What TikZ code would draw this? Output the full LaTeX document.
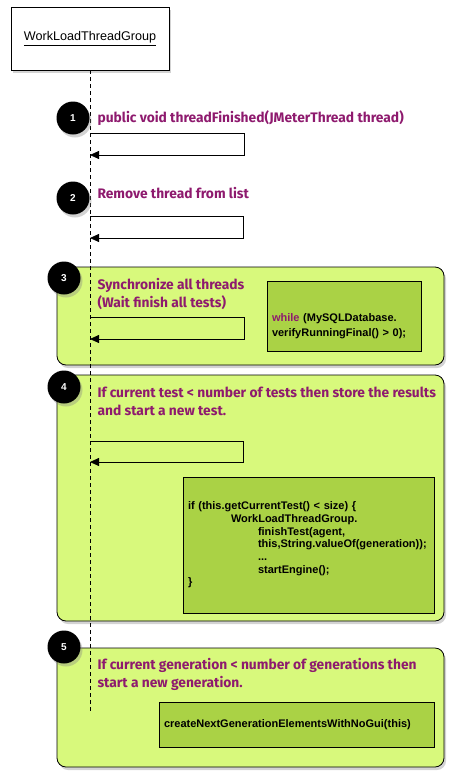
\documentclass[tikz,border=0pt]{standalone}
\usepackage{fontspec}
\setmainfont{Liberation Sans}
\newfontfamily\stepfont{Fira Sans}
\usetikzlibrary{positioning, arrows.meta, shadows}
\definecolor{panelgreen}{HTML}{D8F97C}
\definecolor{codegreen}{HTML}{AAD245}
\definecolor{stepviolet}{HTML}{8E1A6E}

\begin{document}
\begin{tikzpicture}[x=1pt, y=-1pt,
  panel/.style={draw=black, thick, fill=panelgreen, rounded corners=9pt,
    drop shadow={shadow xshift=2pt, shadow yshift=-3pt, opacity=0.35}},
  codebox/.style={draw=black, fill=codegreen, align=left, inner xsep=5pt,
    font=\bfseries\fontsize{11}{12.7}\selectfont},
  badge/.style={circle, fill=black, text=white, minimum size=33pt, inner sep=0pt,
    font=\bfseries\fontsize{10}{11}\selectfont,
    drop shadow={shadow xshift=2pt, shadow yshift=-3pt, opacity=0.35}},
  steplabel/.style={anchor=west, align=left, text=stepviolet,
    font=\stepfont\bfseries\fontsize{13.8}{18}\selectfont},
  msg/.style={line width=0.8pt, -{Triangle[length=9pt, width=8pt]}},
  lifeline/.style={line width=0.8pt, dash pattern=on 4pt off 3pt}
]
\useasboundingbox (0,0) rectangle (455,782);

% header object
\node[draw, thick, fill=white, minimum width=158pt, minimum height=63pt,
  drop shadow={shadow xshift=2pt, shadow yshift=-3pt, opacity=0.35},
  font=\fontsize{12.6}{14}\selectfont] (head) at (90,38.5) {\underline{WorkLoadThreadGroup}};

% green panels for steps 3, 4, 5
\draw[panel] (57,267) rectangle (444,365);
\draw[panel] (57,375) rectangle (444,621);
\draw[panel] (57,648) rectangle (444,767);

% code boxes
\node[codebox, minimum width=154pt, minimum height=70pt, text width=144pt] (code3) at (344,316)
  {\mbox{}\\[15pt]\textcolor{stepviolet}{while} (MySQLDatabase.\\[2.3pt]verifyRunningFinal() > 0);};
\node[codebox, minimum width=251pt, minimum height=136pt, text width=241pt] (code4) at (308.5,545)
  {if (this.getCurrentTest() < size) \{\\
   \hspace*{43pt}WorkLoadThreadGroup.\\
   \hspace*{70pt}finishTest(agent,\\
   \hspace*{70pt}this,String.valueOf(generation));\\
   \hspace*{70pt}...\\
   \hspace*{70pt}startEngine();\\
   \}};
\node[codebox, minimum width=275pt, minimum height=45pt, text width=265pt] (code5) at (296.5,724.5)
  {createNextGenerationElementsWithNoGui(this)};

% lifeline
\coordinate (lifeend) at (90,713);
\draw[lifeline] (head.south) -- (lifeend);

% numbered badges
\foreach \n/\x/\y in {1/73/118, 2/73/198, 3/64/278, 4/64/387, 5/64/647}
  \node[badge] (badge\n) at (\x,\y) {\n};

% self messages
\foreach \n/\top/\bot/\r in {1/133/155/244, 2/216/238/243, 3/317/339/244, 4/441/462/243}{
  \coordinate (call\n) at (90,\top);
  \coordinate (ret\n) at (90,\bot);
  \draw[msg] (call\n) -- (\r,\top) -- (\r,\bot) -- (ret\n);
}

% step labels
\node[steplabel] (label1) at (94,118) {public void threadFinished(JMeterThread thread)};
\node[steplabel] (label2) at (94,193) {Remove thread from list};
\node[steplabel] (label3) at (94,294) {Synchronize all threads\\(Wait finish all tests)};
\node[steplabel] (label4) at (94,401) {If current test < number of tests then store the results\\and start a new test.};
\node[steplabel] (label5) at (94,674) {If current generation < number of generations then\\start a new generation.};
\end{tikzpicture}
\end{document}
